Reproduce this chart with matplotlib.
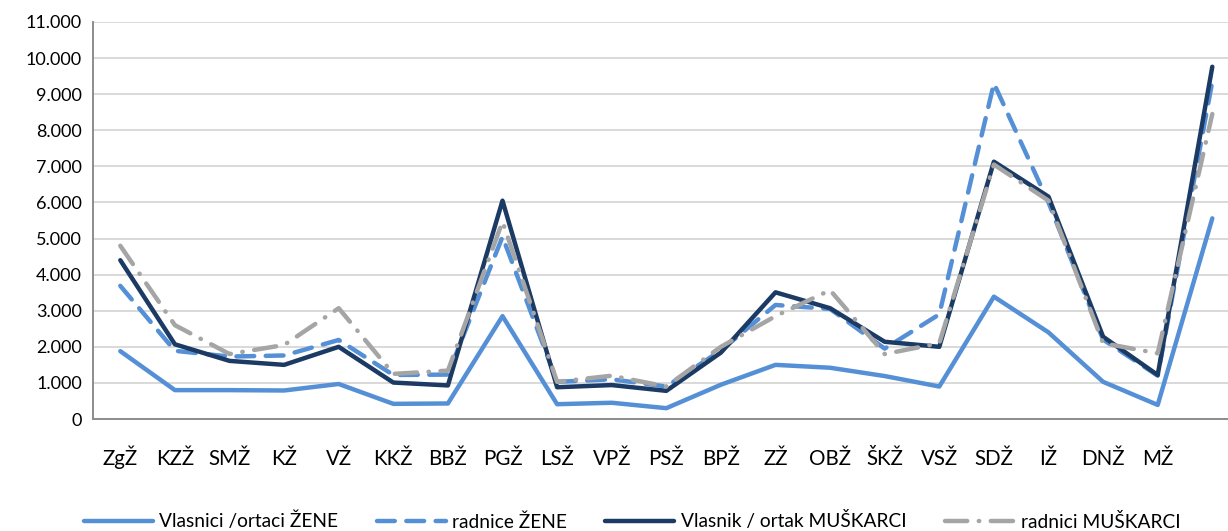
"""Line chart: owners vs. employees by county, women and men."""

import matplotlib

matplotlib.use("Agg")
import matplotlib.pyplot as plt
from matplotlib.ticker import FuncFormatter

counties = ["ZgŽ", "KZŽ", "SMŽ", "KŽ", "VŽ", "KKŽ", "BBŽ", "PGŽ", "LSŽ", "VPŽ", "PSŽ",
            "BPŽ", "ZŽ", "OBŽ", "ŠKŽ", "VSŽ", "SDŽ", "IŽ", "DNŽ", "MŽ", ""]

vlasnici_zene = [1880, 800, 800, 790, 970, 420, 430, 2850, 410, 450, 300,
                 950, 1500, 1420, 1190, 900, 3390, 2400, 1030, 390, 5560]
radnice_zene = [3690, 1890, 1730, 1760, 2190, 1220, 1230, 5050, 1030, 1100, 900,
                1900, 3160, 3050, 1950, 2900, 9300, 6000, 2200, 1200, 9350]
vlasnik_muskarci = [4400, 2070, 1610, 1500, 2000, 1010, 930, 6050, 880, 940, 780,
                    1840, 3510, 3070, 2140, 2000, 7130, 6160, 2280, 1220, 9760]
radnici_muskarci = [4800, 2600, 1800, 2050, 3070, 1250, 1340, 5470, 1030, 1200, 900,
                    2000, 2850, 3570, 1800, 2100, 7050, 6050, 2100, 1820, 8450]

series = [
    ("Vlasnici /ortaci ŽENE", vlasnici_zene, "#5590D6", None),
    ("radnice ŽENE", radnice_zene, "#5590D6", (4, 2.6)),
    ("Vlasnik / ortak MUŠKARCI", vlasnik_muskarci, "#1B3A64", None),
    ("radnici MUŠKARCI", radnici_muskarci, "#A5A5A5", (5, 2.6, 0.1, 2.6)),
]

plt.rcParams["font.family"] = ["Lato", "DejaVu Sans"]

W, H = 1228, 531
fig = plt.figure(figsize=(W / 100, H / 100), dpi=100)
slot = 54.6
ax = fig.add_axes([93 / W, (H - 419) / H, 21 * slot / W, (419 - 22) / H])

x = list(range(len(counties)))
for label, vals, color, dashes in series:
    line, = ax.plot(x, vals, color=color, lw=3.2, label=label,
                    solid_capstyle="round", dash_capstyle="round")
    if dashes:
        line.set_dashes(dashes)

ax.set_xlim(-0.5, len(counties) - 0.5)
ax.set_ylim(0, 11000)
ax.set_yticks(range(0, 11001, 1000))
ax.yaxis.set_major_formatter(FuncFormatter(lambda v, _: f"{int(v):,}".replace(",", ".")))
ax.set_xticks(x)
ax.set_xticklabels(counties, va="baseline")
ax.tick_params(axis="both", length=0, colors="black")
ax.tick_params(axis="y", pad=8, labelsize=13)
ax.tick_params(axis="x", pad=33, labelsize=14.8)
ax.grid(axis="y", color="#D9D9D9", lw=1.4)
ax.set_axisbelow(True)
for side in ("top", "right"):
    ax.spines[side].set_visible(False)
for side in ("left", "bottom"):
    ax.spines[side].set_color("#8C8C8C")
    ax.spines[side].set_linewidth(1.4)

fig.legend(loc="center", bbox_to_anchor=(632 / W, 1 - 521 / H), ncol=4, frameon=False,
           fontsize=13.8, handlelength=3.6, handletextpad=0.35, columnspacing=2.0)

fig.savefig("out.png", dpi=100)
